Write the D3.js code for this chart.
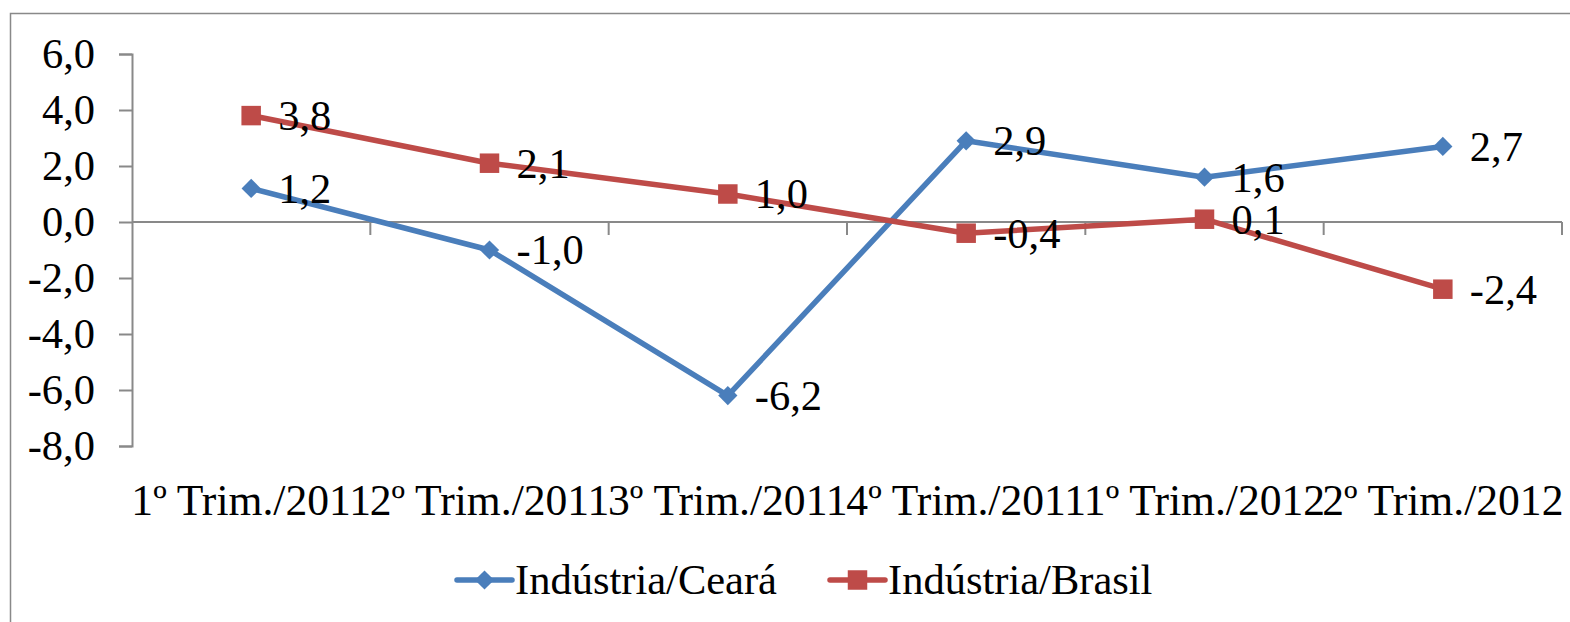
<!DOCTYPE html>
<html>
<head>
<meta charset="utf-8">
<script src="https://cdn.jsdelivr.net/npm/d3@7"></script>
<style>
  body { margin: 0; background: #fff; }
  svg { display: block; }
  text { font-family: "Liberation Serif", "Times New Roman", serif; fill: #000; }
</style>
</head>
<body>
<div id="chart"></div>
<script>
// chart data
const categories = ['1º Trim./2011', '2º Trim./2011', '3º Trim./2011', '4º Trim./2011', '1º Trim./2012', '2º Trim./2012'];
const ceara = [1.2, -1.0, -6.2, 2.9, 1.6, 2.7];
const brasil = [3.8, 2.1, 1.0, -0.4, 0.1, -2.4];
const yTicks = [6, 4, 2, 0, -2, -4, -6, -8];
const seriesNames = ['Indústria/Ceará', 'Indústria/Brasil'];

const width = 1570, height = 622;
const fontSize = 42.5;
const fmt = v => v.toFixed(1).replace('.', ',');

const svg = d3.select('#chart').append('svg')
    .attr('width', width)
    .attr('height', height);

// outer frame
svg.append('rect')
    .attr('x', 10.5).attr('y', 13.5)
    .attr('width', 1580).attr('height', 640)
    .attr('fill', 'none')
    .attr('stroke', '#898989')
    .attr('stroke-width', 1.5);

const x = d3.scaleBand().domain(categories).range([132, 1562]);
const y = d3.scaleLinear().domain([-8, 6]).range([446, 54]);

function addText(g, px, py) {
    return g.append('text')
        .attr('x', px).attr('y', py)
        .attr('font-size', fontSize);
}

//Y axis
const yAxis = svg.append('g').attr('transform', 'translate(132,0)')
    .call(d3.axisLeft(y).tickValues(yTicks).tickSize(13).tickFormat(''));
yAxis.select('.domain').attr('stroke', '#898989').attr('stroke-width', 2);
yAxis.selectAll('.tick line').attr('stroke', '#898989').attr('stroke-width', 2);

const yLabels = svg.append('g');
yTicks.forEach(t => {
    addText(yLabels, 95, y(t))
        .attr('text-anchor', 'end')
        .attr('dy', '0.34em')
        .text(fmt(t));
});

//X axis on zero line
const xAxisG = svg.append('g').attr('transform', `translate(0,${y(0)})`);
xAxisG.append('line')
    .attr('x1', 132).attr('x2', 1562)
    .attr('stroke', '#898989').attr('stroke-width', 2);
const bounds = categories.map(c => x(c)).concat([x.range()[1]]);
xAxisG.selectAll('line.tick')
    .data(bounds.slice(1))
    .enter().append('line')
    .attr('class', 'tick')
    .attr('x1', d => d).attr('x2', d => d)
    .attr('y1', 0).attr('y2', 13)
    .attr('stroke', '#898989').attr('stroke-width', 2);

// category labels at bottom (they run into each other in the original)
const catG = svg.append('g');
categories.forEach(c => {
    addText(catG, x(c) + x.bandwidth() / 2, 515)
        .attr('font-size', 43.6)
        .attr('text-anchor', 'middle')
        .text(c);
});

const cx = (d, i) => x(categories[i]) + x.bandwidth() / 2;

const series = [
    { name: seriesNames[0], values: ceara, color: '#4A7EBB', marker: 'diamond' },
    { name: seriesNames[1], values: brasil, color: '#BE4B48', marker: 'square' }
];

const markerPath = s => s.marker === 'diamond'
    ? d3.symbol().type(d3.symbolSquare).size(185)()
    : d3.symbol().type(d3.symbolSquare).size(380)();
const markerRot = s => s.marker === 'diamond' ? ' rotate(45)' : '';

const line = d3.line().x(cx).y(d => y(d));

series.forEach(s => {
    svg.append('path')
        .datum(s.values)
        .attr('fill', 'none')
        .attr('stroke', s.color)
        .attr('stroke-width', 5.5)
        .attr('stroke-linejoin', 'round')
        .attr('d', line);

    svg.append('g').selectAll('path')
        .data(s.values)
        .enter().append('path')
        .attr('d', markerPath(s))
        .attr('transform', (d, i) => `translate(${cx(d, i)},${y(d)})` + markerRot(s))
        .attr('fill', s.color);

    const lg = svg.append('g');
    s.values.forEach((v, i) => {
        addText(lg, cx(v, i) + 27, y(v))
            .attr('dy', '0.34em')
            .text(fmt(v));
    });
});

//Legend
const legend = svg.append('g');
const legendX = [457, 830];
series.forEach((s, i) => {
    const g = legend.append('g').attr('transform', `translate(${legendX[i]},580)`);
    g.append('line')
        .attr('x1', 0).attr('x2', 55)
        .attr('stroke', s.color).attr('stroke-width', 5.5)
        .attr('stroke-linecap', 'round');
    g.append('path')
        .attr('d', markerPath(s))
        .attr('transform', 'translate(27.5,0)' + markerRot(s))
        .attr('fill', s.color);
    addText(g, 58, 0)
        .attr('dy', '0.34em')
        .text(s.name);
});
</script>
</body>
</html>
